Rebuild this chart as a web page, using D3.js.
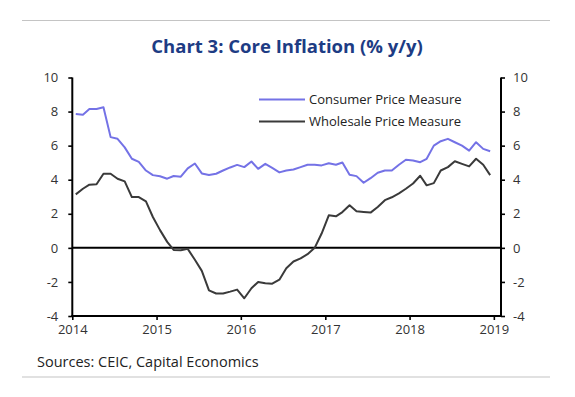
<!DOCTYPE html>
<html>
<head>
<meta charset="utf-8">
<script src="https://cdn.jsdelivr.net/npm/d3@7"></script>
<style>
  html, body { margin: 0; padding: 0; background: #fff; }
  svg { display: block; font-family: "Open Sans", sans-serif; }
</style>
</head>
<body>
<svg id="chart" width="575" height="397"></svg>
<script>
// ---- Data ----
const title = "Chart 3: Core Inflation (% y/y)";
const source = "Sources: CEIC, Capital Economics";
const seriesNames = ["Consumer Price Measure", "Wholesale Price Measure"];
const months = [
  "2014-01","2014-02","2014-03","2014-04","2014-05","2014-06","2014-07","2014-08","2014-09","2014-10","2014-11","2014-12",
  "2015-01","2015-02","2015-03","2015-04","2015-05","2015-06","2015-07","2015-08","2015-09","2015-10","2015-11","2015-12",
  "2016-01","2016-02","2016-03","2016-04","2016-05","2016-06","2016-07","2016-08","2016-09","2016-10","2016-11","2016-12",
  "2017-01","2017-02","2017-03","2017-04","2017-05","2017-06","2017-07","2017-08","2017-09","2017-10","2017-11","2017-12",
  "2018-01","2018-02","2018-03","2018-04","2018-05","2018-06","2018-07","2018-08","2018-09","2018-10","2018-11","2018-12"
];
const consumer = [
  7.86, 7.82, 8.15, 8.15, 8.25, 6.50, 6.40, 5.90, 5.23, 5.05, 4.54, 4.27,
  4.20, 4.06, 4.22, 4.18, 4.67, 4.95, 4.37, 4.28, 4.35, 4.54, 4.72, 4.87,
  4.74, 5.07, 4.64, 4.93, 4.69, 4.43, 4.54, 4.60, 4.74, 4.88, 4.88, 4.84,
  4.97, 4.88, 5.01, 4.29, 4.21, 3.82, 4.09, 4.41, 4.54, 4.54, 4.88, 5.17,
  5.13, 5.03, 5.23, 6.00, 6.26, 6.40, 6.20, 6.00, 5.71, 6.20, 5.81, 5.67
];
const wholesale = [
  3.14, 3.47, 3.71, 3.73, 4.35, 4.35, 4.06, 3.90, 2.98, 2.98, 2.73, 1.81,
  1.04, 0.35, -0.12, -0.14, -0.06, -0.70, -1.35, -2.50, -2.68, -2.68, -2.57, -2.45,
  -2.96, -2.37, -2.00, -2.08, -2.10, -1.87, -1.20, -0.80, -0.62, -0.37, 0.00, 0.84,
  1.91, 1.85, 2.10, 2.50, 2.15, 2.11, 2.07, 2.40, 2.80, 2.97, 3.20, 3.47,
  3.78, 4.23, 3.67, 3.80, 4.54, 4.74, 5.08, 4.93, 4.78, 5.23, 4.88, 4.27
];
const yTicks = [-4, -2, 0, 2, 4, 6, 8, 10];
const xTickYears = ["2014", "2015", "2016", "2017", "2018", "2019"];
const seriesColors = ["#7472e6", "#3a3a3a"];

// ---- Layout ----
const svg = d3.select("#chart");
const L = 72.3, R = 501, T = 77.5, B = 316;
const parseMonth = d3.timeParse("%Y-%m");
const midMonth = s => { const d = parseMonth(s); return new Date(d.getFullYear(), d.getMonth(), 16); };

const x = d3.scaleTime()
  .domain([new Date(2014, 0, 1), new Date(2019, 1, 1)])
  .range([L, R]);
const y = d3.scaleLinear().domain([-4, 10]).range([B, T]);

// Rules
svg.append("line").attr("x1", 22).attr("x2", 550).attr("y1", 20.5).attr("y2", 20.5)
  .attr("stroke", "#c4c4c4").attr("stroke-width", 1.2);
svg.append("line").attr("x1", 22).attr("x2", 550).attr("y1", 377).attr("y2", 377)
  .attr("stroke", "#c4c4c4").attr("stroke-width", 1.2);

// Title
svg.append("text").attr("x", 287).attr("y", 53)
  .attr("text-anchor", "middle")
  .attr("font-size", 18.5).attr("font-weight", "bold")
  .attr("fill", "#1d3c84")
  .text(title);

// Source
svg.append("text").attr("x", 37).attr("y", 367)
  .attr("font-size", 14.5).attr("fill", "#222")
  .text(source);

// Axes
const axisStyle = g => {
  g.selectAll(".domain").remove();
  g.selectAll(".tick line").attr("stroke", "#000").attr("stroke-width", 1.6);
  g.selectAll(".tick text").attr("font-size", 13).attr("fill", "#333")
    .attr("font-family", "\"Open Sans\", sans-serif");
};
const plainNum = d => String(d);

const leftAxis = d3.axisLeft(y).tickValues(yTicks).tickSize(4).tickPadding(10).tickFormat(plainNum);
svg.append("g").attr("transform", `translate(${L},0)`).call(leftAxis).call(axisStyle);

const rightAxis = d3.axisRight(y).tickValues(yTicks).tickSize(4).tickPadding(8).tickFormat(plainNum);
svg.append("g").attr("transform", `translate(${R},0)`).call(rightAxis).call(axisStyle);

const xAxis = d3.axisBottom(x)
  .tickValues(xTickYears.map(s => new Date(+s, 0, 1)))
  .tickSize(4).tickPadding(5).tickFormat(d3.timeFormat("%Y"));
svg.append("g").attr("transform", `translate(0,${B})`).call(xAxis).call(axisStyle);

// Axis lines
svg.append("line").attr("x1", L).attr("x2", L).attr("y1", T).attr("y2", B + 1)
  .attr("stroke", "#000").attr("stroke-width", 2);
svg.append("line").attr("x1", R).attr("x2", R).attr("y1", T).attr("y2", B + 1)
  .attr("stroke", "#000").attr("stroke-width", 2);
svg.append("line").attr("x1", L - 1).attr("x2", R + 1).attr("y1", B).attr("y2", B)
  .attr("stroke", "#000").attr("stroke-width", 2);
// Zero line
svg.append("line").attr("x1", L).attr("x2", R).attr("y1", y(0)).attr("y2", y(0))
  .attr("stroke", "#000").attr("stroke-width", 2);

// Series
const seriesData = [consumer, wholesale];
const line = d3.line().x(d => x(d.date)).y(d => y(d.value));
seriesData.forEach((vals, k) => {
  const pts = months.map((m, i) => ({ date: midMonth(m), value: vals[i] }));
  svg.append("path").datum(pts)
    .attr("fill", "none")
    .attr("stroke", seriesColors[k])
    .attr("stroke-width", 2)
    .attr("stroke-linejoin", "round")
    .attr("d", line);
});

// Legend
const legY = [99.5, 121.5];
seriesNames.forEach((name, k) => {
  svg.append("line").attr("x1", 259).attr("x2", 305)
    .attr("y1", legY[k]).attr("y2", legY[k])
    .attr("stroke", seriesColors[k]).attr("stroke-width", 2);
  svg.append("text").attr("x", 309).attr("y", legY[k] + 4.5)
    .attr("font-size", 13).attr("fill", "#222")
    .text(name);
});
</script>
</body>
</html>
